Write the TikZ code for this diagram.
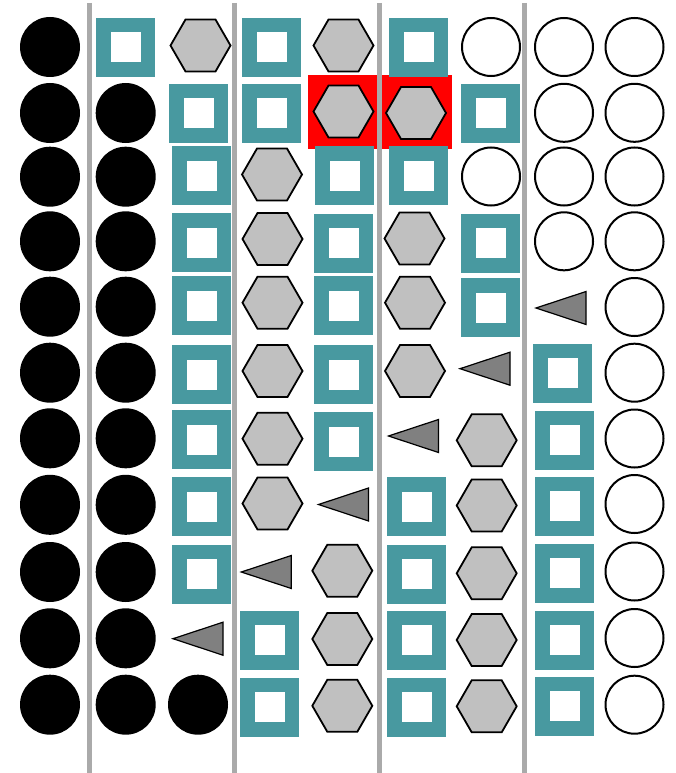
\documentclass[tikz,border=0pt]{standalone}
\definecolor{teal1}{RGB}{72,153,160}
\definecolor{hexgray}{RGB}{192,192,192}
\definecolor{trigray}{RGB}{128,128,128}
\definecolor{linegray}{RGB}{170,170,170}
\newcommand\hexat[3]{\draw[hexst,shift={(#2,#3)}] (0:30) coordinate (#1) -- (60:30) -- (120:30) -- (180:30) -- (240:30) -- (300:30) -- cycle;}
\newcommand\triat[3]{\draw[trist,shift={(#2,#3)}] (-24.5,0) coordinate (#1) -- (25.5,-16.5) -- (25.5,16.5) -- cycle;}
\begin{document}
\begin{tikzpicture}[x=1pt,y=-1pt,
 bcirc/.style={circle,fill=black,minimum size=60pt,inner sep=0pt},
 ocirc/.style={circle,draw=black,line width=2pt,fill=white,minimum size=58pt,inner sep=0pt},
 tsq/.style={rectangle,draw=teal1,line width=14.5pt,fill=white,minimum size=44.5pt,inner sep=0pt},
 hexst/.style={draw=black,line width=1.8pt,fill=hexgray,line join=miter},
 trist/.style={draw=black,line width=1.2pt,fill=trigray,line join=miter},
 sep/.style={draw=linegray,line width=5pt},
 redbg/.style={fill=red}]
\useasboundingbox (0,0) rectangle (676,773);
\fill[white] (0,0) rectangle (676,773);
% red highlights
\fill[redbg] (308,75) rectangle (380,149);
\fill[redbg] (380,75) rectangle (452,149);
% separators
\coordinate (l1t) at (89.2,3); \coordinate (l1b) at (89.2,773);
\coordinate (l2t) at (234.5,3); \coordinate (l2b) at (234.5,773);
\coordinate (l3t) at (379.5,3); \coordinate (l3b) at (379.5,773);
\coordinate (l4t) at (524.8,3); \coordinate (l4b) at (524.8,773);
\draw[sep] (l1t) -- (l1b);
\draw[sep] (l2t) -- (l2b);
\draw[sep] (l3t) -- (l3b);
\draw[sep] (l4t) -- (l4b);
% row 1
\node[bcirc] (r1c1) at (50,47) {};
\node[tsq] (r1c2) at (125.5,47.5) {};
\hexat{r1c3}{200.5}{45.5}
\node[tsq] (r1c4) at (271.5,47.5) {};
\hexat{r1c5}{343.5}{45.5}
\node[tsq] (r1c6) at (418.5,47.5) {};
\node[ocirc] (r1c7) at (491,47) {};
\node[ocirc] (r1c8) at (564,47) {};
\node[ocirc] (r1c9) at (634.5,47) {};
% row 2
\node[bcirc] (r2c1) at (50,113) {};
\node[bcirc] (r2c2) at (125.7,113) {};
\node[tsq] (r2c3) at (198.5,113.5) {};
\node[tsq] (r2c4) at (271.5,113.5) {};
\hexat{r2c5}{343.5}{111.5}
\hexat{r2c6}{416}{113}
\node[tsq] (r2c7) at (490.5,113.5) {};
\node[ocirc] (r2c8) at (564,112.8) {};
\node[ocirc] (r2c9) at (634.5,112.8) {};
% row 3
\node[bcirc] (r3c1) at (50,176.7) {};
\node[bcirc] (r3c2) at (125.7,176.7) {};
\node[tsq] (r3c3) at (201.5,175.5) {};
\hexat{r3c4}{272}{174.5}
\node[tsq] (r3c5) at (344.5,175.5) {};
\node[tsq] (r3c6) at (418.5,175.5) {};
\node[ocirc] (r3c7) at (491,176.5) {};
\node[ocirc] (r3c8) at (564,176.5) {};
\node[ocirc] (r3c9) at (634.5,176.5) {};
% row 4
\node[bcirc] (r4c1) at (50,241.3) {};
\node[bcirc] (r4c2) at (125.7,241.3) {};
\node[tsq] (r4c3) at (201.5,242.5) {};
\hexat{r4c4}{272.5}{239}
\node[tsq] (r4c5) at (343.5,243) {};
\hexat{r4c6}{414.5}{238.5}
\node[tsq] (r4c7) at (490.5,243) {};
\node[ocirc] (r4c8) at (564,241.3) {};
\node[ocirc] (r4c9) at (634.5,241.3) {};
% row 5
\node[bcirc] (r5c1) at (50,306.7) {};
\node[bcirc] (r5c2) at (125.7,306.7) {};
\node[tsq] (r5c3) at (201.5,305.5) {};
\hexat{r5c4}{272.5}{302.7}
\node[tsq] (r5c5) at (343.5,305.5) {};
\hexat{r5c6}{415}{302.7}
\node[tsq] (r5c7) at (490.5,307.5) {};
\triat{r5c8}{560.5}{308}
\node[ocirc] (r5c9) at (634.5,307) {};
% row 6
\node[bcirc] (r6c1) at (50,372.7) {};
\node[bcirc] (r6c2) at (125.7,372.7) {};
\node[tsq] (r6c3) at (201.5,374.5) {};
\hexat{r6c4}{272.5}{371}
\node[tsq] (r6c5) at (343.5,374.5) {};
\hexat{r6c6}{415}{371}
\triat{r6c7}{484.5}{368.7}
\node[tsq] (r6c8) at (562.5,373.3) {};
\node[ocirc] (r6c9) at (634.5,372.7) {};
% row 7
\node[bcirc] (r7c1) at (50,438.3) {};
\node[bcirc] (r7c2) at (125.7,438.3) {};
\node[tsq] (r7c3) at (201.5,439.5) {};
\hexat{r7c4}{272.5}{438.7}
\node[tsq] (r7c5) at (343.5,441.5) {};
\triat{r7c6}{413}{436}
\hexat{r7c7}{486.7}{440.3}
\node[tsq] (r7c8) at (564.5,440.3) {};
\node[ocirc] (r7c9) at (634.5,438.5) {};
% row 8
\node[bcirc] (r8c1) at (50,504.8) {};
\node[bcirc] (r8c2) at (125.7,504.8) {};
\node[tsq] (r8c3) at (201.5,506.5) {};
\hexat{r8c4}{272.5}{503.5}
\triat{r8c5}{343}{504.5}
\node[tsq] (r8c6) at (416.5,506.5) {};
\hexat{r8c7}{486.7}{505.5}
\node[tsq] (r8c8) at (564.5,506.2) {};
\node[ocirc] (r8c9) at (634.5,504) {};
% row 9
\node[bcirc] (r9c1) at (50,572) {};
\node[bcirc] (r9c2) at (125.7,572) {};
\node[tsq] (r9c3) at (201.5,574.3) {};
\triat{r9c4}{265.8}{572}
\hexat{r9c5}{342.3}{570.7}
\node[tsq] (r9c6) at (416.5,574.3) {};
\hexat{r9c7}{486.7}{573.3}
\node[tsq] (r9c8) at (564.5,573.3) {};
\node[ocirc] (r9c9) at (634.5,571.5) {};
% row 10
\node[bcirc] (r10c1) at (50,638.3) {};
\node[bcirc] (r10c2) at (125.7,638.3) {};
\triat{r10c3}{197.5}{638.7}
\node[tsq] (r10c4) at (269.5,640.2) {};
\hexat{r10c5}{342.3}{639}
\node[tsq] (r10c6) at (416.5,640.2) {};
\hexat{r10c7}{486.7}{640}
\node[tsq] (r10c8) at (564.5,640.3) {};
\node[ocirc] (r10c9) at (634.5,638) {};
% row 11
\node[bcirc] (r11c1) at (50,704.7) {};
\node[bcirc] (r11c2) at (125.7,704.7) {};
\node[bcirc] (r11c3) at (198,704.7) {};
\node[tsq] (r11c4) at (269.5,707.3) {};
\hexat{r11c5}{342.3}{705.8}
\node[tsq] (r11c6) at (416.5,707.3) {};
\hexat{r11c7}{486.7}{706.3}
\node[tsq] (r11c8) at (564.5,706.3) {};
\node[ocirc] (r11c9) at (634.5,704.7) {};
\end{tikzpicture}
\end{document}
